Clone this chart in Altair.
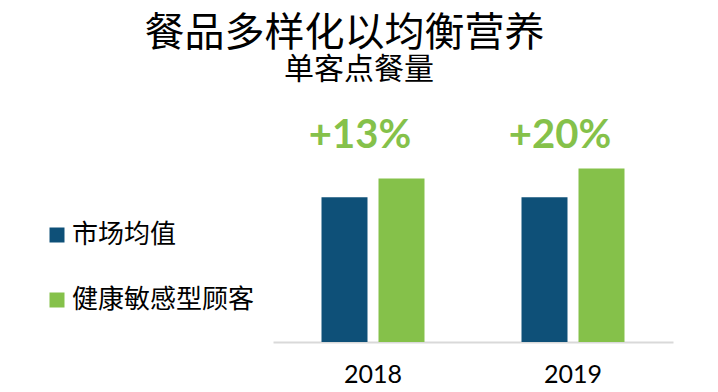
import altair as alt
import pandas as pd

years = ["2018", "2019"]
series = ["市场均值", "健康敏感型顾客"]
market_avg = [100, 100]
health = [113, 120]
growth_labels = ["+13%", "+20%"]

colors = ["#0E5078", "#85C14A"]

rows = []
for i, y in enumerate(years):
    rows.append({"year": y, "series": series[0], "value": market_avg[i]})
    rows.append({"year": y, "series": series[1], "value": health[i]})
df = pd.DataFrame(rows)
lab_df = pd.DataFrame({"year": years, "label": growth_labels})
sub_df = pd.DataFrame({"t": ["单客点餐量"]})

x_enc = alt.X("year:N", sort=years,
              scale=alt.Scale(paddingInner=0.485, paddingOuter=0.2425),
              axis=alt.Axis(title=None, domainColor="#D9D9D9", domainWidth=2,
                            ticks=False, labelAngle=0, labelFont="Lato",
                            labelFontSize=25, labelColor="#000000",
                            labelPadding=20))

bars = alt.Chart(df).mark_bar().encode(
    x=x_enc,
    xOffset=alt.XOffset("series:N", sort=series,
                        scale=alt.Scale(paddingInner=0.193, paddingOuter=0)),
    y=alt.Y("value:Q", scale=alt.Scale(domain=[0, 150]), axis=None),
    color=alt.Color("series:N", sort=series,
                    scale=alt.Scale(domain=series, range=colors),
                    legend=alt.Legend(title=None, orient="none", legendX=-229,
                                      legendY=97, symbolType="square",
                                      symbolSize=225, symbolStrokeWidth=0,
                                      labelFont="Noto Sans CJK SC",
                                      labelFontSize=26, labelColor="#000000",
                                      labelOffset=2, rowPadding=39,
                                      labelLimit=0, padding=0)),
)

labels = alt.Chart(lab_df).mark_text(
    font="Lato", fontSize=40, fontWeight="bold", color="#85C14A",
    baseline="alphabetic", align="center", dx=-13
).encode(
    x=alt.X("year:N", sort=years),
    y=alt.value(22.6),
    text="label:N",
)

subtitle = alt.Chart(sub_df).mark_text(
    font="Noto Sans CJK SC", fontSize=30, color="#000000",
    baseline="middle", align="center"
).encode(
    x=alt.value(86),
    y=alt.value(-55),
    text="t:N",
)

chart = alt.layer(bars, labels, subtitle).properties(
    width=400,
    height=217,
    title=alt.TitleParams(text="餐品多样化以均衡营养", font="Noto Sans CJK SC",
                          fontSize=40, fontWeight="normal", color="#000000",
                          anchor="start", align="center", frame="group",
                          dx=71.5, offset=1),
    padding={"left": 265, "top": 117, "right": 37, "bottom": 42},
    autosize=alt.AutoSizeParams(type="none"),
).configure_view(stroke=None)

chart.save("out.html", embed_options={"renderer": "svg", "actions": False})
